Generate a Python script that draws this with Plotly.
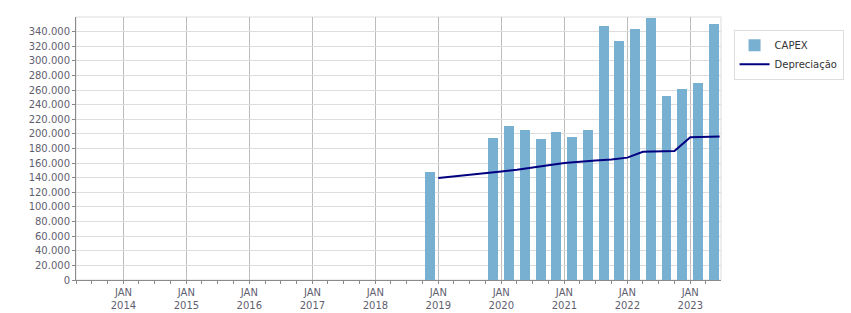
import plotly.graph_objects as go

# ---- data ----
capex_quarters = ["2018-10-01", "2019-10-01", "2020-01-01", "2020-04-01", "2020-07-01",
                  "2020-10-01", "2021-01-01", "2021-04-01", "2021-07-01", "2021-10-01",
                  "2022-01-01", "2022-04-01", "2022-07-01", "2022-10-01", "2023-01-01",
                  "2023-04-01"]
capex_values = [148500, 194000, 210500, 205000, 192700, 202300, 195500, 205000,
                347700, 327000, 343600, 358600, 251700, 261300, 269500, 350500]

dep_dates = ["2019-01-01", "2019-04-01", "2019-07-01", "2019-10-01", "2020-01-01",
             "2020-04-01", "2020-07-01", "2020-10-01", "2021-01-01", "2021-04-01",
             "2021-07-01", "2021-10-01", "2022-01-01", "2022-04-01", "2022-07-01",
             "2022-10-01", "2023-01-01", "2023-04-01", "2023-06-20"]
dep_values = [139500, 141500, 144000, 146000, 148500, 151000, 153500, 157000, 160000,
              162000, 163500, 165000, 167500, 175500, 176000, 176500, 195500, 196000,
              196500]

year_ticks = ["2014-01-01", "2015-01-01", "2016-01-01", "2017-01-01", "2018-01-01",
              "2019-01-01", "2020-01-01", "2021-01-01", "2022-01-01", "2023-01-01"]
year_labels = ["JAN<br>2014", "JAN<br>2015", "JAN<br>2016", "JAN<br>2017", "JAN<br>2018",
               "JAN<br>2019", "JAN<br>2020", "JAN<br>2021", "JAN<br>2022", "JAN<br>2023"]
y_ticks = list(range(0, 340001, 20000))

FONT = "DejaVu Sans"
LABEL_COLOR = "#5f5f70"

fig = go.Figure()
fig.add_trace(go.Bar(
    x=capex_quarters, y=capex_values, name="CAPEX",
    xperiod="M3", xperiodalignment="middle",
    width=[5.0e9] * len(capex_values),
    marker=dict(color="#78b0d2", line=dict(width=0)),
))
fig.add_trace(go.Scatter(
    x=dep_dates, y=dep_values, name="Depreciação", mode="lines",
    line=dict(color="#000080", width=2),
))

fig.update_layout(
    width=851, height=313,
    margin=dict(l=76, r=130, t=17, b=33, autoexpand=False),
    paper_bgcolor="white", plot_bgcolor="white",
    separators=",.",
    font=dict(family=FONT, size=10, color=LABEL_COLOR),
    showlegend=True,
    legend=dict(xref="container", yref="container", x=0.862, y=0.905,
                xanchor="left", yanchor="top",
                bordercolor="#dddddd", borderwidth=1, bgcolor="white",
                font=dict(family=FONT, size=10, color="#333333"),
                itemwidth=30, tracegroupgap=0),
    bargap=0,
    shapes=[dict(type="rect", xref="paper", yref="paper", x0=0, x1=1, y0=0, y1=1,
                 line=dict(color="#dddddd", width=1), layer="below")],
)
fig.update_xaxes(
    type="date", range=["2013-04-01", "2023-06-28"], automargin=False,
    tickmode="array", tickvals=year_ticks, ticktext=year_labels,
    ticks="outside", ticklen=3, tickcolor="#888888",
    showgrid=True, gridcolor="#bdbdbd", gridwidth=1,
    showline=True, linecolor="#8a8a8a", linewidth=1,
    zeroline=False,
    tickfont=dict(family=FONT, size=10, color=LABEL_COLOR),
    minor=dict(dtick="M3", tick0="2013-01-01", ticks="outside", ticklen=3,
               tickcolor="#888888", showgrid=False),
)
fig.update_yaxes(
    range=[0, 360000], automargin=False,
    tickmode="array", tickvals=y_ticks, tickformat=",.0f",
    ticks="outside", ticklen=3, tickcolor="#888888",
    showgrid=True, gridcolor="#dddddd", gridwidth=1,
    showline=True, linecolor="#8a8a8a", linewidth=1,
    zeroline=False,
    tickfont=dict(family=FONT, size=10, color=LABEL_COLOR),
)

fig.write_html("out.html")
